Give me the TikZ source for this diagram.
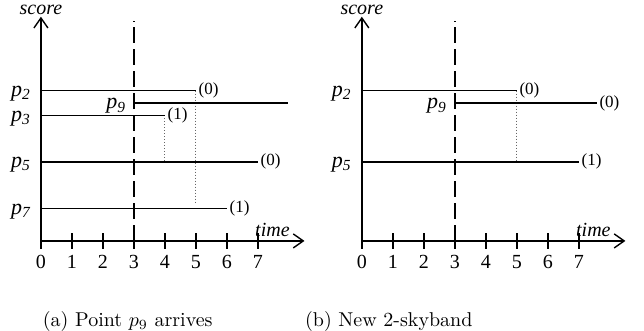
\documentclass[tikz,border=0pt]{standalone}
\usepackage{fontspec}
\usetikzlibrary{arrows.meta}
\newfontfamily\tms{Liberation Serif}

\begin{document}
\begin{tikzpicture}[
    x=15.5pt, y=15.5pt, % one time unit
    every node/.style={inner sep=1pt},
    axis/.style={line width=0.7pt, -{Straight Barb[length=5pt,width=7pt]}},
    life/.style={line width=0.7pt},
    nowline/.style={line width=1.2pt, dash pattern=on 8pt off 3pt},
    drop/.style={densely dotted, line width=0.5pt, black!60},
    plabel/.style={font=\fontsize{11}{13}\selectfont\tms\itshape, anchor=east, yshift=-1.5pt},
    count/.style={font=\fontsize{8.5}{10}\selectfont\tms, anchor=west},
    tick label/.style={font=\tms, anchor=north},
    axis label/.style={font=\tms\itshape}
]
    \useasboundingbox (-1.32,-2.90) rectangle (19.45,7.77);

    % --- scores of the points ---
    \def\sa{4.85} % p2
    \def\sn{4.45} % p9
    \def\sb{4.05} % p3
    \def\sc{2.55} % p5
    \def\sd{1.05} % p7

    % --- axes, ticks and the current time, drawn in each panel ---
    \def\drawBase{
        \draw[axis] (0,0) -- (8.5,0);
        \draw[axis] (0,0) -- (0,7.23);
        \node[axis label, above] (score) at (0,7.23) {score};
        \node[axis label, anchor=south east] (time) at (8.1,0.05) {time};
        \foreach \t in {0,...,7} {
            \draw[line width=0.7pt] (\t,-0.25) -- (\t,0.25);
            \node[tick label] (t\t) at (\t,-0.38) {\t};
        }
        \draw[nowline] (3,0) -- (3,7.1);
        \draw[line width=1.2pt] (3,\sn-0.2) -- (3,\sn+0.2);
        \node[plabel, anchor=east] (n9) at (2.82,\sn) {p\textsubscript{9}};
    }

    % ==========================================
    % PANEL (a): point p9 arrives
    % ==========================================
    \begin{scope}[shift={(0,0)}]
        \drawBase

        % dotted drops
        \draw[drop] (4,\sb) -- (4,\sc);
        \draw[drop] (5,\sa) -- (5,1.2);

        % lifespans
        \draw[life] (0,\sa) -- (5,\sa) node[count] (ca) {(0)};
        \draw[life] (3,\sn) -- (7.97,\sn);
        \draw[life] (0,\sb) -- (4,\sb) node[count] (cb) {(1)};
        \draw[life] (0,\sc) -- (7,\sc) node[count] (cc) {(0)};
        \draw[life] (0,\sd) -- (6,\sd) node[count] (cd) {(1)};

        \node[plabel] (la) at (-0.25,\sa) {p\textsubscript{2}};
        \node[plabel] (lb) at (-0.25,\sb) {p\textsubscript{3}};
        \node[plabel] (lc) at (-0.25,\sc) {p\textsubscript{5}};
        \node[plabel] (ld) at (-0.25,\sd) {p\textsubscript{7}};

        \node (capa) at (2.8,-2.6) {(a) Point $p_9$ arrives};
    \end{scope}

    % ==========================================
    % PANEL (b): new 2-skyband
    % ==========================================
    \begin{scope}[shift={(10.35,0)}]
        \drawBase

        \draw[drop] (5,\sa) -- (5,\sc);

        \draw[life] (0,\sa) -- (5,\sa) node[count] (ra) {(0)};
        \draw[life] (3,\sn) -- (7.58,\sn) node[count] (rn) {(0)};
        \draw[life] (0,\sc) -- (7,\sc) node[count] (rc) {(1)};

        \node[plabel] (ma) at (-0.25,\sa) {p\textsubscript{2}};
        \node[plabel] (mc) at (-0.25,\sc) {p\textsubscript{5}};

        \node (capb) at (0.87,-2.6) {(b) New 2-skyband};
    \end{scope}

\end{tikzpicture}
\end{document}
